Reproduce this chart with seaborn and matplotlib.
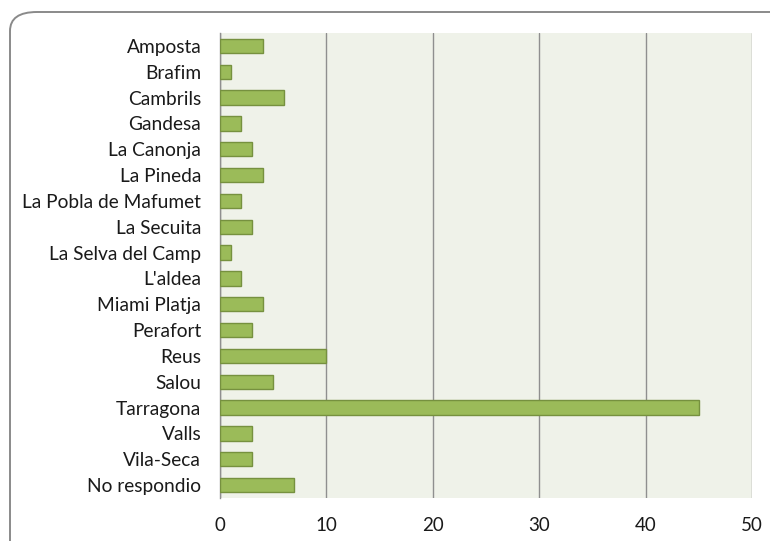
import matplotlib
matplotlib.use("Agg")
import matplotlib.pyplot as plt
from matplotlib.patches import FancyBboxPatch
import seaborn as sns
import pandas as pd

towns = ["Amposta", "Brafim", "Cambrils", "Gandesa", "La Canonja", "La Pineda",
         "La Pobla de Mafumet", "La Secuita", "La Selva del Camp", "L'aldea",
         "Miami Platja", "Perafort", "Reus", "Salou", "Tarragona", "Valls",
         "Vila-Seca", "No respondio"]
counts = [4, 1, 6, 2, 3, 4, 2, 3, 1, 2, 4, 3, 10, 5, 45, 3, 3, 7]
x_ticks = [0, 10, 20, 30, 40, 50]

df = pd.DataFrame({"town": towns, "count": counts})

sns.set_theme(style="white")
plt.rcParams["font.family"] = ["Lato", "DejaVu Sans"]

fig = plt.figure(figsize=(7.70, 5.41), dpi=100)
fig.patch.set_facecolor("white")

# rounded frame around the chart
frame = FancyBboxPatch((10 / 770, -0.2), 1.2, 1 - 12 / 541 + 0.2,
                       boxstyle="round,pad=0,rounding_size=0.035",
                       transform=fig.transFigure, facecolor="none",
                       edgecolor="#8a8a8a", linewidth=1.4, zorder=0)
fig.patches.append(frame)

ax = fig.add_axes([220 / 770, 1 - 498 / 541, (752 - 220) / 770, (498 - 33) / 541])
ax.set_facecolor("#eff2e9")

sns.barplot(data=df, y="town", x="count", orient="h", ax=ax,
            color="#9bbb59", saturation=1, width=0.55,
            edgecolor="#76913f", linewidth=1.0, zorder=3)

ax.set_xlim(0, 50)
ax.set_xticks(x_ticks)
ax.set_xticklabels([str(t) for t in x_ticks])
ax.set_xlabel("")
ax.set_ylabel("")
ax.xaxis.grid(True, color="#8f8f8f", linewidth=1.0, zorder=1)
ax.set_axisbelow(True)

for side in ["top", "bottom", "right"]:
    ax.spines[side].set_visible(False)
ax.spines["left"].set_color("#8f8f8f")
ax.spines["left"].set_linewidth(1.0)

ax.tick_params(axis="x", length=4, color="#8f8f8f", pad=10, labelsize=13.5, labelcolor="#1a1a1a")
ax.tick_params(axis="y", length=0, pad=13.5, labelsize=13.8, labelcolor="#1a1a1a")

fig.savefig("out.png", dpi=100, facecolor="white")
